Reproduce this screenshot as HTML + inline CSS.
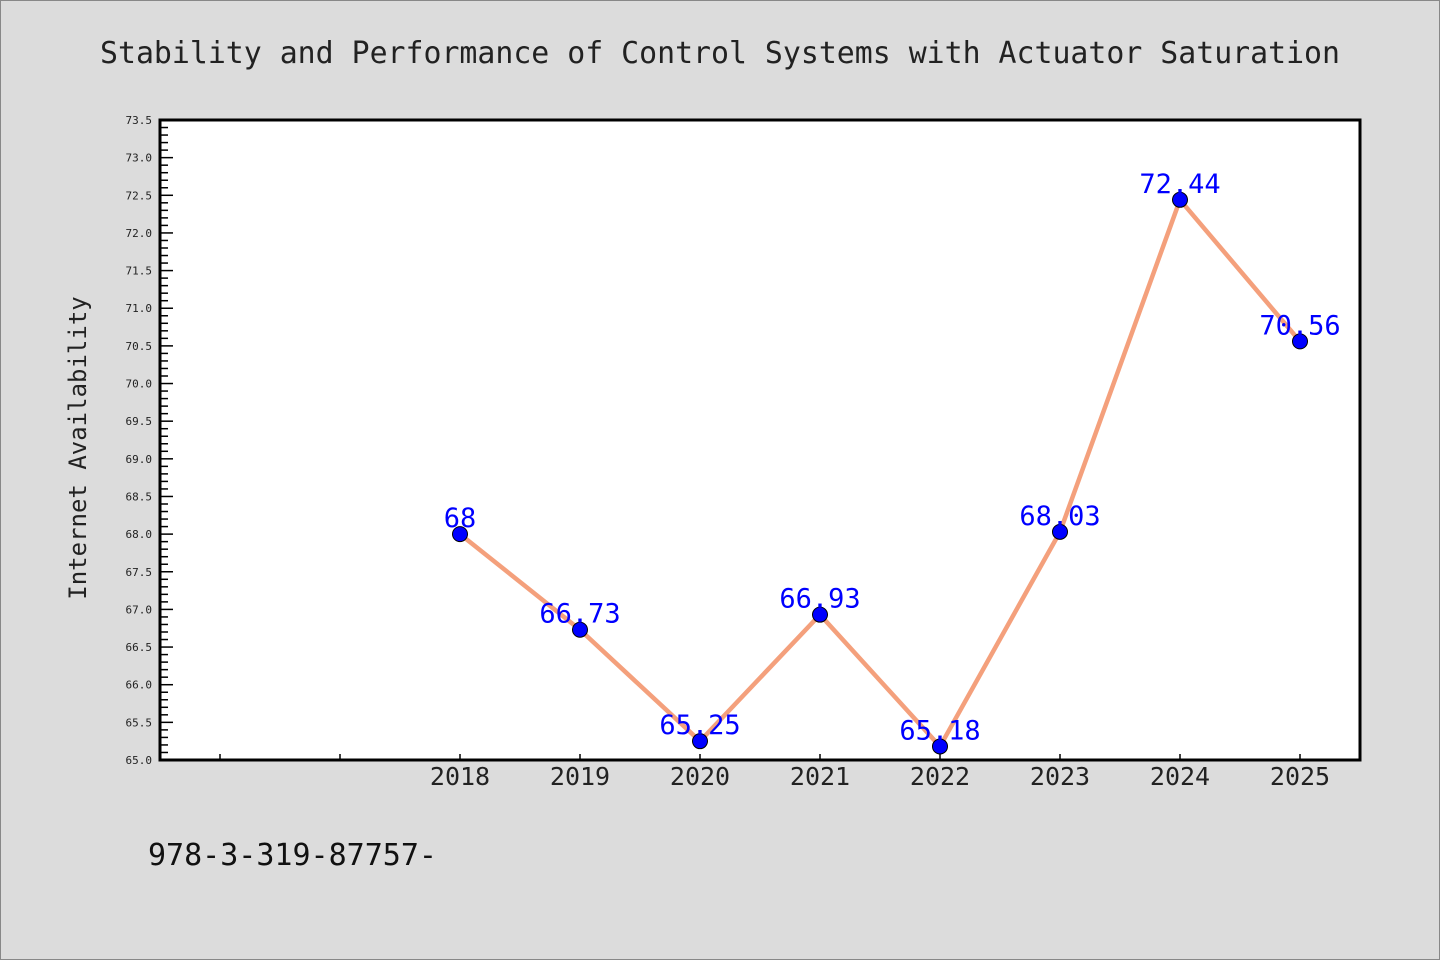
<!DOCTYPE html>
<html><head><meta charset="utf-8"><style>
body{margin:0;background:#dcdcdc;}
svg{display:block;font-family:"WenQuanYi Zen Hei Mono","DejaVu Sans Mono","Liberation Mono",monospace;}
</style></head><body>
<svg width="1440" height="960" viewBox="0 0 1440 960">
<rect x="0.5" y="0.5" width="1439" height="959" fill="#dcdcdc" stroke="#888"/>
<text x="720" y="63" text-anchor="middle" font-size="30" fill="#222" textLength="1240" lengthAdjust="spacingAndGlyphs">Stability and Performance of Control Systems with Actuator Saturation</text>
<text transform="translate(86,448) rotate(-90)" text-anchor="middle" font-size="24" fill="#222">Internet Availability</text>
<text x="148" y="865" font-size="30" fill="#111">978-3-319-87757-</text>
<rect x="160" y="120" width="1200" height="640" fill="#fff"/>
<g id="ticks"></g>
<g id="series"></g>
<rect x="160" y="120" width="1200" height="640" fill="none" stroke="#000" stroke-width="3"/>
</svg>
<script>
const categories=["","","2018","2019","2020","2021","2022","2023","2024","2025"];
const values=[null,null,68,66.73,65.25,66.93,65.18,68.03,72.44,70.56];
const labels=["","","68","66.73","65.25","66.93","65.18","68.03","72.44","70.56"];
const yMin=65,yMax=73.5;
const NS="http://www.w3.org/2000/svg";
const X0=160,X1=1360,Y0=760,Y1=120;
const xs=i=>X0+(X1-X0)/categories.length*(i+0.5);
const ys=v=>Y0-(v-yMin)/(yMax-yMin)*(Y0-Y1);
function mk(t,a,p){const e=document.createElementNS(NS,t);for(const k in a)e.setAttribute(k,a[k]);p.appendChild(e);return e;}
const tg=document.getElementById('ticks');
for(let k=0;k<=85;k++){
  const v=yMin+k*0.1,y=ys(v),maj=k%5===0;
  const l=mk('line',{x1:X0,x2:X0+(maj?13:8),y1:y,y2:y,stroke:'#000','stroke-width':1.5},tg);
  
  
  if(maj){const t=mk('text',{x:152,y:y+4,'text-anchor':'end','font-size':11,fill:'#222'},tg);t.textContent=v.toFixed(1);
  
  }
}
categories.forEach((c,i)=>{
  const x=xs(i);
  const l=mk('line',{x1:x,x2:x,y1:Y0,y2:Y0-6,stroke:'#000','stroke-width':1.5},tg);
  
  
  if(c){const t=mk('text',{x:x,y:785,'text-anchor':'middle','font-size':25,fill:'#222'},tg);t.textContent=c;
  
  }
});
const sg=document.getElementById('series');
const pts=values.map((v,i)=>v==null?null:[xs(i),ys(v)]).filter(p=>p);
const pl=mk('polyline',{points:pts.map(p=>p.join(',')).join(' '),fill:'none',stroke:'#f4a07c','stroke-width':4.5,'stroke-linejoin':'round'},sg);


values.forEach((v,i)=>{
  if(v==null)return;
  const c=mk('circle',{cx:xs(i),cy:ys(v),r:7.5,fill:'#0000ff',stroke:'#000','stroke-width':1},sg);
  
  
  const t=mk('text',{x:xs(i),y:ys(v)-7,'text-anchor':'middle','font-size':27,fill:'#0000ff'},sg);t.textContent=labels[i];
  
  
});
</script>
</body></html>
